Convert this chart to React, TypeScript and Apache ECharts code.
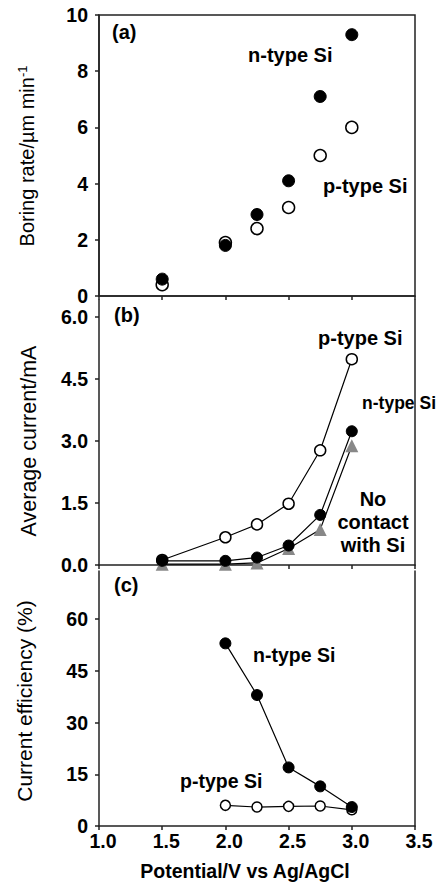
import React, { useEffect, useRef } from "react";
import * as echarts from "echarts";

const potentials = [1.5, 2.0, 2.25, 2.5, 2.75, 3.0];
const boringN = [0.6, 1.8, 2.9, 4.1, 7.1, 9.3];
const boringP = [0.4, 1.9, 2.4, 3.15, 5.0, 6.0];
const currentP = [0.12, 0.67, 0.98, 1.48, 2.77, 4.97];
const currentN = [0.1, 0.1, 0.18, 0.47, 1.21, 3.23];
const currentNone = [0.02, 0.02, 0.05, 0.4, 0.86, 2.88];
const effPotentials = [2.0, 2.25, 2.5, 2.75, 3.0];
const effN = [53, 38, 17, 11.5, 5.5];
const effP = [6, 5.5, 5.7, 5.8, 4.7];

const xTicks = [1.0, 1.5, 2.0, 2.5, 3.0, 3.5];
const yTicksA = [0, 2, 4, 6, 8, 10];
const yTicksB = [0, 1.5, 3.0, 4.5, 6.0];
const yTicksC = [0, 15, 30, 45, 60];

const FONT = "Arial, 'Liberation Sans', sans-serif";
const AXIS_COLOR = "#222";

const zip = (xs: number[], ys: number[]) => xs.map((x, i) => [x, ys[i]]);

export default function App() {
  const ref = useRef<HTMLDivElement>(null);
  useEffect(() => {
    if (!ref.current) return;
    const chart = echarts.init(ref.current, null, { renderer: "svg" });

    const axisLine = { show: true, lineStyle: { color: AXIS_COLOR, width: 1.5 } };
    const labelStyle = {
      color: "#000",
      fontFamily: FONT,
      fontWeight: "bold" as const,
      fontSize: 19.5,
      lineHeight: 14,
    };

    const makeX = (gridIndex: number, showLabels: boolean) => ({
      type: "value",
      gridIndex,
      min: 1.0,
      max: 3.5,
      interval: 0.5,
      axisLine,
      splitLine: { show: false },
      axisTick: { show: true, inside: false, length: 4, lineStyle: { color: AXIS_COLOR, width: 1.5 }, customValues: xTicks },
      axisLabel: showLabels
        ? {
            ...labelStyle,
            margin: 8,
            padding: [0, 0, 0, 8],
            formatter: (v: number) => v.toFixed(1),
            customValues: xTicks,
          }
        : { show: false },
    });

    const makeY = (gridIndex: number, max: number, ticks: number[], fmt: (v: number) => string) => ({
      type: "value",
      gridIndex,
      min: 0,
      max,
      axisLine,
      splitLine: { show: false },
      axisTick: { show: true, inside: false, length: 4, lineStyle: { color: AXIS_COLOR, width: 1.5 }, customValues: ticks },
      axisLabel: { ...labelStyle, margin: 11, formatter: fmt, customValues: ticks },
    });

    const makeRight = (gridIndex: number, max: number) => ({
      type: "value",
      gridIndex,
      position: "right",
      min: 0,
      max,
      axisLine,
      axisTick: { show: false },
      axisLabel: { show: false },
      splitLine: { show: false },
    });

    const openSym = { color: "#fff", borderColor: "#000", borderWidth: 1.5, opacity: 1 };
    const filledSym = { color: "#000", borderColor: "#000", borderWidth: 1, opacity: 1 };

    const text = (x: number, y: number, t: string, align = "left", size = 20) => ({
      type: "text",
      x,
      y,
      style: {
        text: t,
        fill: "#000",
        font: `bold ${size}px ${FONT}`,
        textAlign: align,
        textVerticalAlign: "middle",
      },
    });

    const vtext = (x: number, y: number, t: string, size: number, rich?: any) => ({
      type: "text",
      x,
      y,
      rotation: Math.PI / 2,
      style: {
        text: t,
        fill: "#000",
        font: `${size}px ${FONT}`,
        textAlign: "center",
        textVerticalAlign: "middle",
        rich,
      },
    });

    chart.setOption({
      animation: false,
      backgroundColor: "#fff",
      grid: [
        { left: 99, right: 23, top: 15, height: 281, show: true, borderColor: AXIS_COLOR, borderWidth: 1.5 },
        { left: 99, right: 23, top: 300, height: 265 },
        { left: 99, right: 23, top: 571, height: 255 },
      ],
      xAxis: [makeX(0, false), makeX(1, false), makeX(2, true)],
      yAxis: [
        makeY(0, 10, yTicksA, (v: number) => String(v)),
        makeY(1, 6.4, yTicksB, (v: number) => v.toFixed(1)),
        makeY(2, 74, yTicksC, (v: number) => String(v)),
        makeRight(1, 6.4),
        makeRight(2, 74),
      ],
      series: [
        {
          type: "scatter",
          xAxisIndex: 0,
          yAxisIndex: 0,
          symbol: "circle",
          symbolSize: 12,
          itemStyle: openSym,
          data: zip(potentials, boringP),
          z: 2,
        },
        {
          type: "scatter",
          xAxisIndex: 0,
          yAxisIndex: 0,
          symbol: "circle",
          symbolSize: 12,
          itemStyle: filledSym,
          data: zip(potentials, boringN),
          z: 3,
        },
        {
          type: "line",
          xAxisIndex: 1,
          yAxisIndex: 1,
          symbol: "circle",
          symbolSize: 11,
          showAllSymbol: true,
          lineStyle: { color: "#000", width: 1.2 },
          itemStyle: openSym,
          data: zip(potentials, currentP),
          z: 2,
        },
        {
          type: "line",
          xAxisIndex: 1,
          yAxisIndex: 1,
          symbol: "triangle",
          symbolSize: 13,
          lineStyle: { color: "#000", width: 1.2 },
          itemStyle: { color: "#888", borderColor: "#888", borderWidth: 0, opacity: 1 },
          data: zip(potentials, currentNone),
          z: 3,
        },
        {
          type: "line",
          xAxisIndex: 1,
          yAxisIndex: 1,
          symbol: "circle",
          symbolSize: 11,
          lineStyle: { color: "#000", width: 1.2 },
          itemStyle: filledSym,
          data: zip(potentials, currentN),
          z: 4,
        },
        {
          type: "line",
          xAxisIndex: 2,
          yAxisIndex: 2,
          symbol: "circle",
          symbolSize: 10,
          lineStyle: { color: "#000", width: 1.2 },
          itemStyle: openSym,
          data: zip(effPotentials, effP),
          z: 2,
        },
        {
          type: "line",
          xAxisIndex: 2,
          yAxisIndex: 2,
          symbol: "circle",
          symbolSize: 11,
          lineStyle: { color: "#000", width: 1.2 },
          itemStyle: filledSym,
          data: zip(effPotentials, effN),
          z: 3,
        },
      ],
      graphic: [
        text(112, 32, "(a)"),
        text(248, 55, "n-type Si"),
        text(323, 186, "p-type Si"),
        text(114, 315, "(b)"),
        text(318, 338, "p-type Si"),
        text(436, 403, "n-type Si", "right", 17.5),
        text(373, 499, "No", "center"),
        text(373, 522, "contact", "center"),
        text(373, 545, "with Si", "center"),
        text(114, 585, "(c)"),
        text(253, 655, "n-type Si", "left", 19.5),
        text(180, 781, "p-type Si", "left", 19.5),
        vtext(27, 156, "Boring rate/µm min{sup|-1}", 20, {
          sup: { font: `13px ${FONT}`, fill: "#000", verticalAlign: "top", padding: [0, 0, 9, 0] },
        }),
        vtext(29, 441, "Average current/mA", 21.5),
        vtext(24, 701, "Current efficiency (%)", 21),
        {
          type: "text",
          x: 245,
          y: 871,
          style: {
            text: "Potential/V vs Ag/AgCl",
            fill: "#000",
            font: `bold 19.5px ${FONT}`,
            textAlign: "center",
            textVerticalAlign: "middle",
          },
        },
      ],
    });
    return () => chart.dispose();
  }, []);
  return (
    <div
      ref={ref}
      style={{ position: "absolute", left: 0, top: 0, width: 438, height: 883, background: "#fff" }}
    />
  );
}
